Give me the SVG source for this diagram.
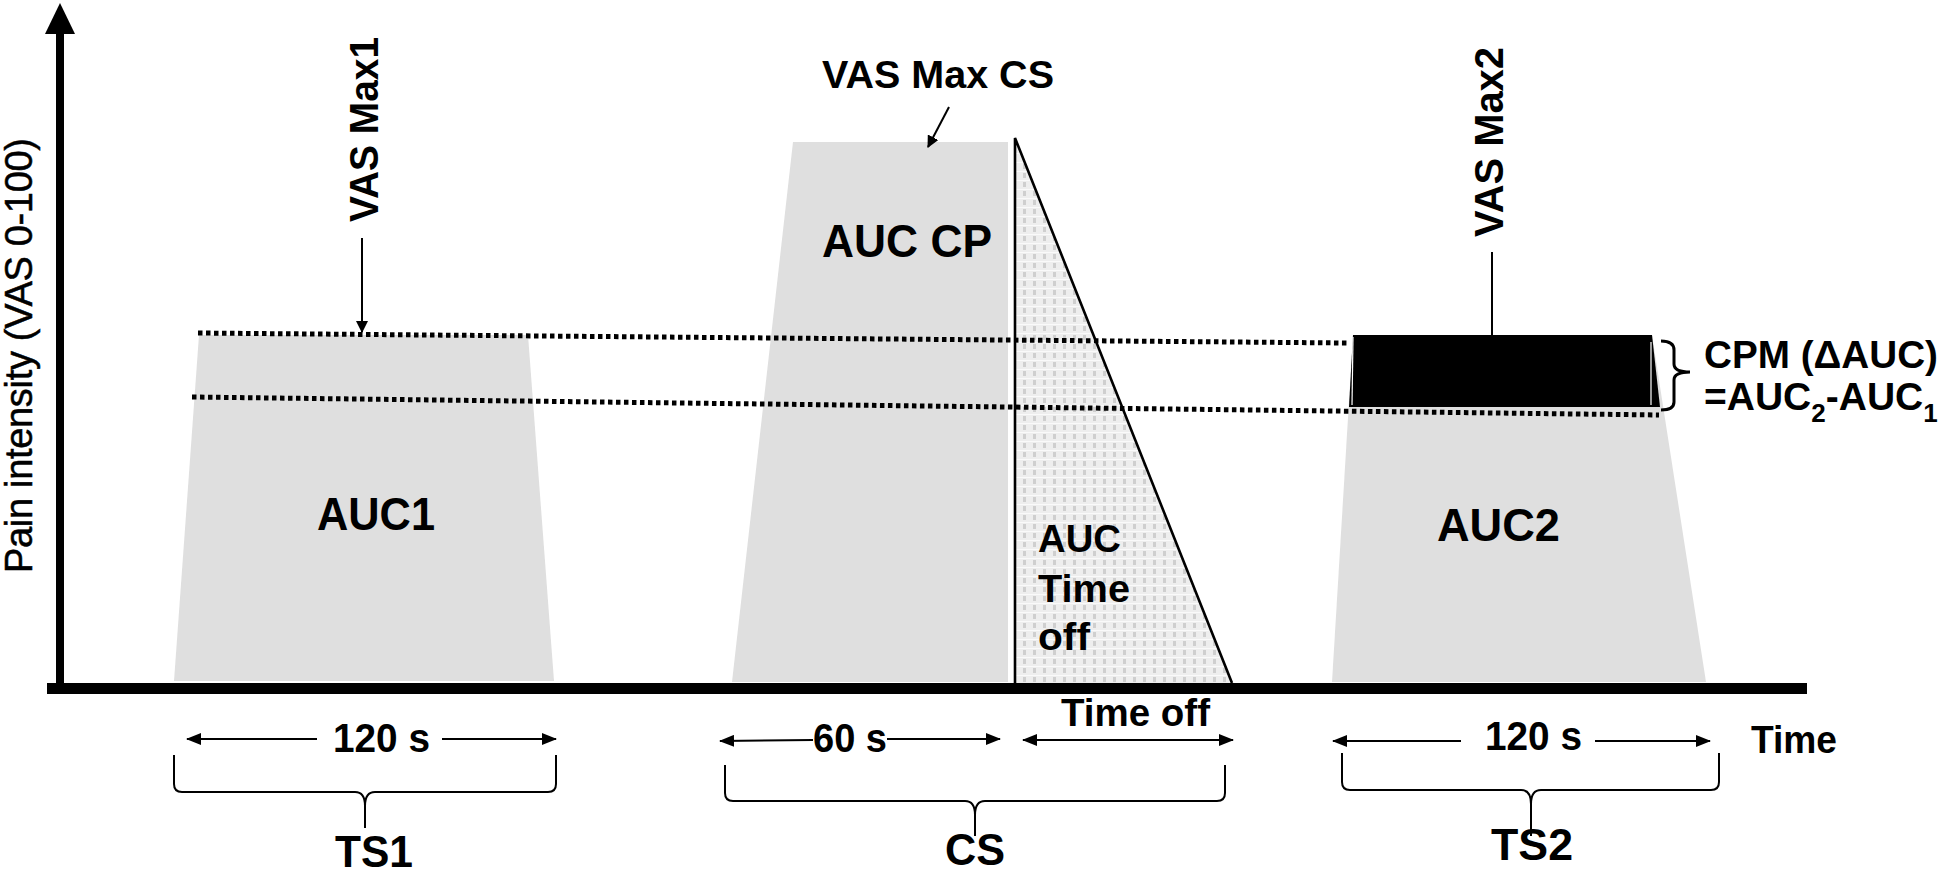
<svg xmlns="http://www.w3.org/2000/svg" width="1943" height="872" viewBox="0 0 1943 872">
<style>
.b{font-family:"Liberation Sans",Arial,sans-serif;font-weight:bold;fill:#000}
.r{font-family:"Liberation Sans",Arial,sans-serif;font-weight:normal;fill:#000}
.gray{fill:#dfdfdf}
.dot{stroke:#000;stroke-width:5;stroke-dasharray:4.5 3.5;fill:none}
.ar{stroke:#000;stroke-width:2;fill:none}
.br{stroke:#000;stroke-width:2;fill:none}
</style>
<defs>
<marker id="ah" viewBox="0 0 15 12" refX="14" refY="6" markerWidth="15" markerHeight="12" markerUnits="userSpaceOnUse" orient="auto-start-reverse"><path d="M0,0 L15,6 L0,12 z" fill="#000"/></marker>
<marker id="ahs" viewBox="0 0 12 12" refX="11" refY="6" markerWidth="12" markerHeight="12" markerUnits="userSpaceOnUse" orient="auto"><path d="M0,0 L12,6 L0,12 z" fill="#000"/></marker>
<pattern id="chk" width="10" height="9" patternUnits="userSpaceOnUse">
<rect width="10" height="9" fill="#eeeeee"/>
<rect x="3" y="2" width="3" height="5" fill="#cfcfcf"/>
<rect x="0" y="0" width="10" height="1" fill="#fafafa"/>
</pattern>
</defs>

<g id="axes">
<rect x="56" y="32" width="8" height="652" fill="#000"/>
<polygon points="60,3 45,34 75,34" fill="#000"/>
<rect x="47" y="683" width="1760" height="11" fill="#000"/>
<text class="r" font-size="38" stroke="#000" stroke-width="0.5" textLength="435" lengthAdjust="spacing" transform="translate(32,573) rotate(-90)">Pain intensity (VAS 0-100)</text>
<text class="b" x="1751" y="753" font-size="38" textLength="86" lengthAdjust="spacingAndGlyphs">Time</text>
</g>

<g id="ts1">
<polygon class="gray" points="199,335 528,335 554,681 174,681"/>
<text class="b" x="317" y="530" font-size="47" textLength="118" lengthAdjust="spacingAndGlyphs">AUC1</text>
<text class="b" x="333" y="752" font-size="41" textLength="97" lengthAdjust="spacingAndGlyphs">120 s</text>
<text class="b" x="335" y="867" font-size="45" textLength="78" lengthAdjust="spacingAndGlyphs">TS1</text>
<text class="b" font-size="41" textLength="185" lengthAdjust="spacingAndGlyphs" transform="translate(378,222) rotate(-90)">VAS Max1</text>
</g>

<g id="cs">
<polygon class="gray" points="793,142 1008,142 1008,682 732,682"/>
<polygon points="1015,138 1232,683 1015,683" fill="url(#chk)" stroke="none"/>
<path d="M1015,683 L1015,138 L1232,683" stroke="#000" stroke-width="2.6" fill="none"/>
<text class="b" x="822" y="257" font-size="46" textLength="170" lengthAdjust="spacingAndGlyphs">AUC CP</text>
<text class="b" x="822" y="88" font-size="39" textLength="232" lengthAdjust="spacingAndGlyphs">VAS Max CS</text>
<text class="b" x="1038" y="552" font-size="38" textLength="83" lengthAdjust="spacingAndGlyphs">AUC</text>
<text class="b" x="1038" y="602" font-size="38" textLength="92" lengthAdjust="spacingAndGlyphs">Time</text>
<text class="b" x="1038" y="650" font-size="38" textLength="52" lengthAdjust="spacingAndGlyphs">off</text>
<text class="b" x="813" y="752" font-size="41" textLength="74" lengthAdjust="spacingAndGlyphs">60 s</text>
<text class="b" x="1061" y="726" font-size="38" textLength="149" lengthAdjust="spacingAndGlyphs">Time off</text>
<text class="b" x="945" y="865" font-size="45" textLength="60" lengthAdjust="spacingAndGlyphs">CS</text>
</g>

<g id="ts2">
<polygon class="gray" points="1353,335 1652,335 1706,682 1332,682"/>
<polygon points="1353,335 1652,335 1660,407 1349,407" fill="#000"/>
<line x1="1353" y1="337" x2="1352" y2="405" stroke="#fff" stroke-width="1.2"/>
<line x1="1651" y1="342" x2="1651" y2="405" stroke="#fff" stroke-width="1.2"/>
<text class="b" x="1437" y="541" font-size="46" textLength="123" lengthAdjust="spacingAndGlyphs">AUC2</text>
<text class="b" x="1485" y="750" font-size="41" textLength="97" lengthAdjust="spacingAndGlyphs">120 s</text>
<text class="b" x="1491" y="860" font-size="45" textLength="82" lengthAdjust="spacingAndGlyphs">TS2</text>
<text class="b" font-size="41" textLength="190" lengthAdjust="spacingAndGlyphs" transform="translate(1503,237) rotate(-90)">VAS Max2</text>
</g>

<g id="cpm">
<text class="b" x="1704" y="368" font-size="39" textLength="234" lengthAdjust="spacingAndGlyphs">CPM (ΔAUC)</text>
<text class="b" x="1704" y="410" font-size="39">=AUC<tspan font-size="26" dy="12">2</tspan><tspan dy="-12">-AUC</tspan><tspan font-size="26" dy="12">1</tspan></text>
</g>

<g id="connectors">
<line class="dot" x1="198" y1="333" x2="1348" y2="343"/>
<line class="dot" x1="192" y1="397" x2="1659" y2="415"/>
<line class="ar" x1="362" y1="238" x2="362" y2="332" marker-end="url(#ahs)"/>
<line class="ar" x1="949" y1="107" x2="928" y2="147" marker-end="url(#ahs)"/>
<line class="ar" x1="1492" y1="252" x2="1492" y2="335"/>
<line class="ar" x1="317" y1="739" x2="187" y2="739" marker-end="url(#ah)"/>
<line class="ar" x1="442" y1="739" x2="556" y2="739" marker-end="url(#ah)"/>
<line class="ar" x1="813" y1="740" x2="720" y2="741" marker-end="url(#ah)"/>
<line class="ar" x1="887" y1="739" x2="1000" y2="739" marker-end="url(#ah)"/>
<line class="ar" x1="1023" y1="740" x2="1233" y2="740" marker-start="url(#ah)" marker-end="url(#ah)"/>
<line class="ar" x1="1461" y1="741" x2="1333" y2="741" marker-end="url(#ah)"/>
<line class="ar" x1="1595" y1="741" x2="1710" y2="741" marker-end="url(#ah)"/>
<path class="br" d="M174,755 L174,784 Q174,792 182,792 L355,792 Q365,792 365,806 Q365,792 375,792 L548,792 Q556,792 556,784 L556,755 M365,805 L365,828"/>
<path class="br" d="M725,765 L725,793 Q725,801 733,801 L965,801 Q975,801 975,815 Q975,801 985,801 L1217,801 Q1225,801 1225,793 L1225,765 M975,814 L975,836"/>
<path class="br" d="M1342,753 L1342,782 Q1342,790 1350,790 L1521,790 Q1531,790 1531,804 Q1531,790 1541,790 L1711,790 Q1719,790 1719,782 L1719,753 M1531,803 L1531,836"/>
<path d="M1661,341 Q1674,341 1674,350 L1674,364 Q1674,372 1690,372 Q1674,372 1674,380 L1674,402 Q1674,410 1661,410" stroke="#000" stroke-width="3" fill="none"/>
</g>
</svg>
